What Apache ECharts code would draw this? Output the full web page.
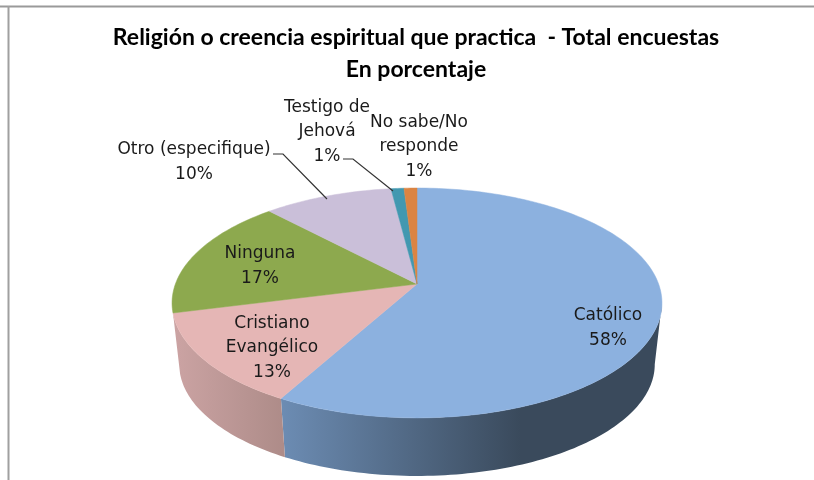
<!DOCTYPE html>
<html><head><meta charset="utf-8">
<style>html,body{margin:0;padding:0;background:#fff}#c{width:814px;height:480px;filter:blur(0.4px)}</style>
<script src="https://cdn.jsdelivr.net/npm/echarts@6/dist/echarts.min.js"></script>
</head><body><div id="c"></div>
<script>
const categories = ['Católico','Cristiano\nEvangélico','Ninguna','Otro (especifique)','Testigo de\nJehová','No sabe/No\nresponde'];
const values = [58,13,17,10,1,1];
const topColors = ['#8CB1DF','#E5B6B5','#8DA94E','#CABFD9','#4298B0','#DB8442'];
const wallColors = [['#6C8CB3','#3A4A5C',282,520],['#CBA3A3','#AE8C89',175,282],['#6E8440','#6E8440',170,180],['#9D94A9','#9D94A9',0,1],['#317385','#317385',0,1],['#A86432','#A86432',0,1]];
const labelAnchors = [[608,328],[272,348],[260,266],[194,162],[327,132],[419,147]];
const leaders = [null,null,null,[[273,154],[283,154],[327,199]],[[343,159],[353,159],[393,191]],null];

const topFace = {cx:417, cy:284, rx:241.6, ry:111.8, k:0.165};
const baseFace = {cx:417, cy:346, rx:234.5, ry:108.5, k:0.165};
const wallVisible = [27.6, 71];
const total = values.reduce((a,b)=>a+b,0);
const fontFamily = '"DejaVu Sans", sans-serif';

function project(f, pct, r){
  const t = pct/total*2*Math.PI, x = Math.sin(t)*r, y = Math.cos(t)*r, d = 1+f.k*y;
  return [f.cx+f.rx*x/d, f.cy-f.ry*y/d];
}
function arc(f, a, b){
  const pts=[], n=Math.max(4,Math.ceil((b-a)*3));
  for(let i=0;i<=n;i++) pts.push(project(f,a+(b-a)*i/n,1));
  return pts;
}
const starts=[]; values.reduce((s,v,i)=>{starts[i]=s;return s+v;},0);

const chartData = categories.map((name,i)=>({name,value:[values[i],starts[i]]}));

function renderWall(params){
  const i=params.dataIndex, a=Math.max(starts[i],wallVisible[0]), b=Math.min(starts[i]+values[i],wallVisible[1]), w=wallColors[i];
  if(a>=b) return null;
  const pts=arc(topFace,a,b).concat(arc(baseFace,a,b).reverse());
  return {type:'polygon',shape:{points:pts},style:{
    fill:new echarts.graphic.LinearGradient(w[2],0,w[3],0,[{offset:0,color:w[0]},{offset:1,color:w[1]}],true)}};
}
function renderTop(params){
  const i=params.dataIndex, a=starts[i], b=a+values[i];
  const pts=[[topFace.cx,topFace.cy]].concat(arc(topFace,a,b));
  return {type:'polygon',shape:{points:pts},style:{fill:topColors[i],stroke:topColors[i],lineWidth:0.5}};
}
function renderLabel(params){
  const i=params.dataIndex, children=[];
  if(leaders[i]) children.push({type:'polyline',shape:{points:leaders[i]},style:{fill:null,stroke:'#333',lineWidth:1.2}});
  children.push({type:'text',x:labelAnchors[i][0],y:labelAnchors[i][1],style:{
    text:categories[i]+'\n'+values[i]+'%',fill:'#1a1a1a',font:'17px '+fontFamily,
    align:'center',verticalAlign:'middle',lineHeight:24.5}});
  return {type:'group',children};
}
const chart=echarts.init(document.getElementById('c'),null,{renderer:'canvas'});
chart.setOption({
  animation:false,
  backgroundColor:'#fff',
  title:{text:'Religión o creencia espiritual que practica  - Total encuestas\nEn porcentaje',
    left:411,top:17,textAlign:'center',
    textStyle:{fontFamily:'Lato',fontWeight:'bold',fontSize:23,lineHeight:32,color:'#000'}},
  xAxis:{show:false,min:0,max:1},yAxis:{show:false,min:0,max:1},
  grid:{left:0,right:0,top:0,bottom:0},
  graphic:[
    {type:'line',shape:{x1:0,y1:6.5,x2:814,y2:6.5},style:{stroke:'#9a9a9a',lineWidth:2}},
    {type:'line',shape:{x1:8.5,y1:6,x2:8.5,y2:480},style:{stroke:'#a0a0a0',lineWidth:2}}
  ],
  series:[
    {type:'custom',coordinateSystem:'none',renderItem:renderWall,data:chartData,z:1,silent:true},
    {type:'custom',coordinateSystem:'none',renderItem:renderTop,data:chartData,z:2,silent:true},
    {type:'custom',coordinateSystem:'none',renderItem:renderLabel,data:chartData,z:3,silent:true}
  ]
});
</script></body></html>
